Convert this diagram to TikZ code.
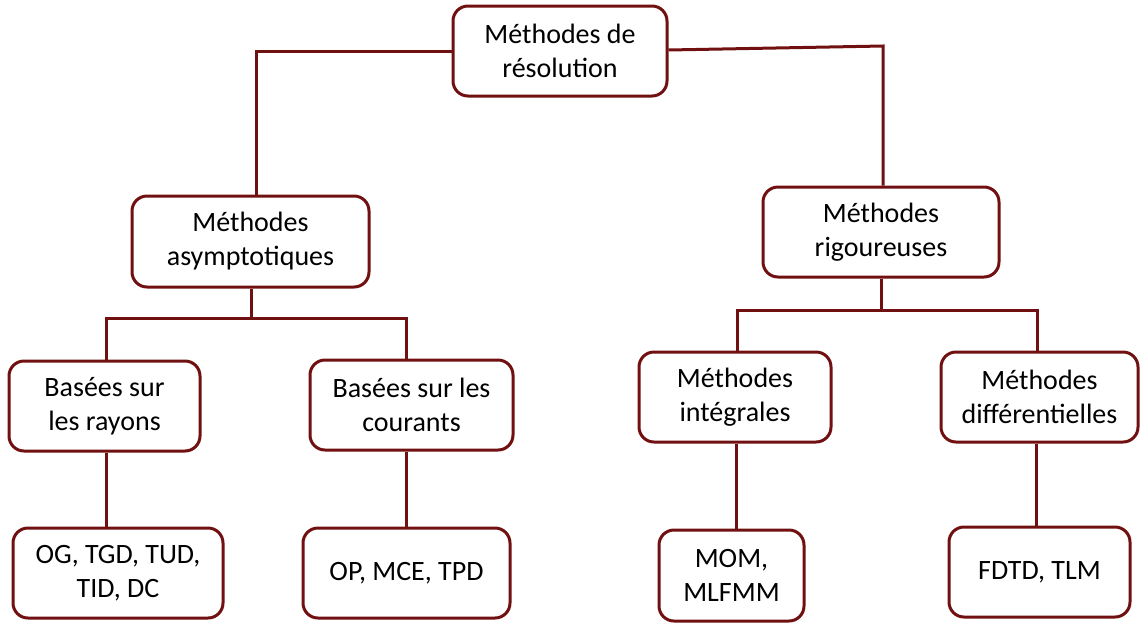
\documentclass[tikz,border=0pt]{standalone}
\usepackage{fontspec}
\setmainfont{Carlito}
\definecolor{maroon}{RGB}{112,16,16}
\begin{document}
\begin{tikzpicture}[x=1pt,y=-1pt,
  box/.style={draw=maroon,line width=3pt,rounded corners=15pt,fill=white,
    align=center,inner sep=0pt,font=\fontsize{28}{34}\selectfont},
  link/.style={draw=maroon,line width=3pt}]
\useasboundingbox (0,0) rectangle (1141,622);
\node[box,minimum width=214pt,minimum height=90pt] (top) at (560,51) {Méthodes de\\résolution};
\node[box,minimum width=237pt,minimum height=91pt] (asym) at (250.5,241.5) {Méthodes\\asymptotiques};
\node[box,minimum width=236pt,minimum height=90pt] (rig) at (881,232) {Méthodes\\rigoureuses};
\node[box,minimum width=191pt,minimum height=90pt] (ray) at (104.5,406) {Basées sur\\les rayons};
\node[box,minimum width=203pt,minimum height=90pt] (cour) at (411.5,405) {Basées sur les\\courants};
\node[box,minimum width=192pt,minimum height=90pt] (integ) at (735,397) {Méthodes\\intégrales};
\node[box,minimum width=197pt,minimum height=90pt] (diff) at (1039.5,397) {Méthodes\\différentielles};
\node[box,minimum width=210pt,minimum height=90pt] (og) at (118,573) {OG, TGD, TUD,\\TID, DC};
\node[box,minimum width=207pt,minimum height=90pt] (op) at (406.5,573) {OP, MCE, TPD};
\node[box,minimum width=145pt,minimum height=91pt] (mom) at (731.5,575.5) {MOM,\\MLFMM};
\node[box,minimum width=181pt,minimum height=90pt] (fdtd) at (1039.5,572) {FDTD, TLM};
\coordinate (tl) at (256,51);
\coordinate (tr) at (883,46);
\coordinate (al) at (106,318);
\coordinate (ar) at (406,318);
\coordinate (rl) at (737,310);
\coordinate (rr) at (1037,310);
\begin{scope}[on background layer/.style={}]
\draw[link] (top.west |- tl) -- (tl) -- (asym.north -| tl);
\draw[link] (top.east |- 0,50) -- (tr) -- (rig.north -| tr);
\draw[link] (asym.south -| 251,0) -- (251,318);
\draw[link] (ray.north -| al) -- (al) -- (ar) -- (cour.north -| ar);
\draw[link] (rig.south -| 881,0) -- (881,310);
\draw[link] (integ.north -| rl) -- (rl) -- (rr) -- (diff.north -| rr);
\draw[link] (ray.south -| 106,0) -- (og.north -| 106,0);
\draw[link] (cour.south -| 406,0) -- (op.north -| 406,0);
\draw[link] (integ.south -| 736,0) -- (mom.north -| 736,0);
\draw[link] (diff.south -| 1036,0) -- (fdtd.north -| 1036,0);
\end{scope}
\end{tikzpicture}
\end{document}
